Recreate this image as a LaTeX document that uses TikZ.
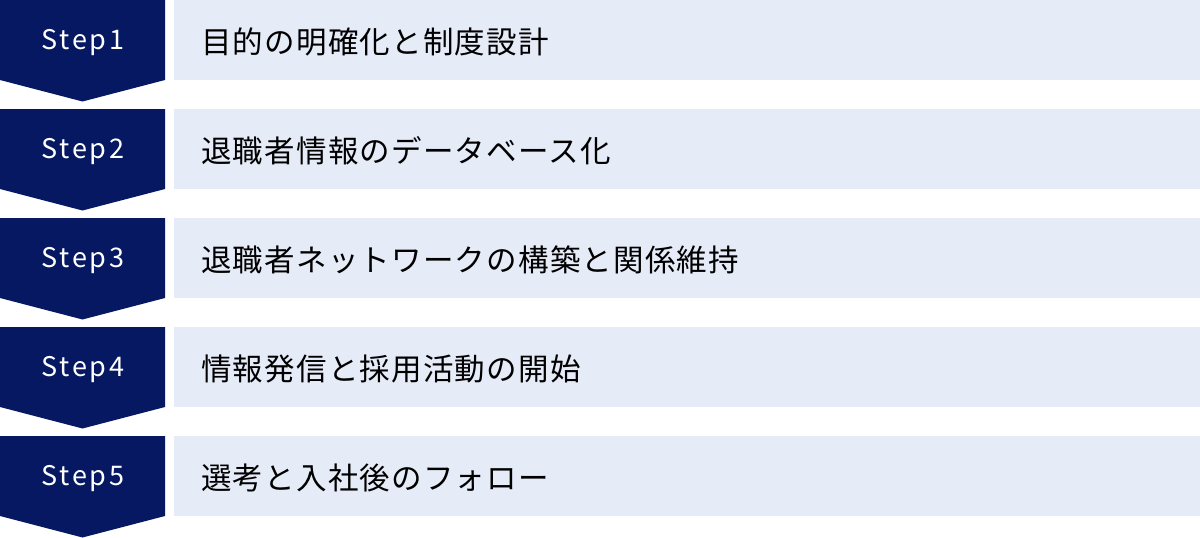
\documentclass[tikz,border=0pt]{standalone}
\usepackage{fontspec}
\setmainfont{Noto Sans}
\newfontfamily\jpfont[LetterSpace=4]{Noto Sans CJK JP}
\newfontfamily\stepfont[LetterSpace=10]{Noto Sans CJK JP}
\definecolor{navy}{HTML}{061862}
\definecolor{lightbar}{HTML}{E6EBF8}
\begin{document}
\begin{tikzpicture}[x=1pt,y=-1pt,
  stepshape/.style={fill=navy,draw=none},
  barshape/.style={fill=lightbar,draw=none},
  steplabel/.style={text=white,font=\stepfont\fontsize{27}{30}\selectfont,anchor=center,inner sep=0pt},
  barlabel/.style={text=black,font=\jpfont\fontsize{30.5}{34}\selectfont,anchor=west,inner sep=0pt}]
\path[use as bounding box] (0,0) rectangle (1200,538);
\foreach \i/\txt in {0/目的の明確化と制度設計,1/退職者情報のデータベース化,2/退職者ネットワークの構築と関係維持,3/情報発信と採用活動の開始,4/選考と入社後のフォロー}{
  \pgfmathsetmacro{\y}{\i*109}
  \fill[stepshape] (0,\y) -- (165,\y) -- (165,\y+80) -- (82.5,\y+101.5) -- (0,\y+80) -- cycle;
  \fill[barshape] (174,\y) rectangle (1200,\y+80);
  \pgfmathtruncatemacro{\n}{\i+1}
  \node[steplabel] (s\n) at (83,\y+42.5) {Step\n};
  \node[barlabel] (b\n) at (201,\y+41.5) {\txt};
}
\end{tikzpicture}
\end{document}
